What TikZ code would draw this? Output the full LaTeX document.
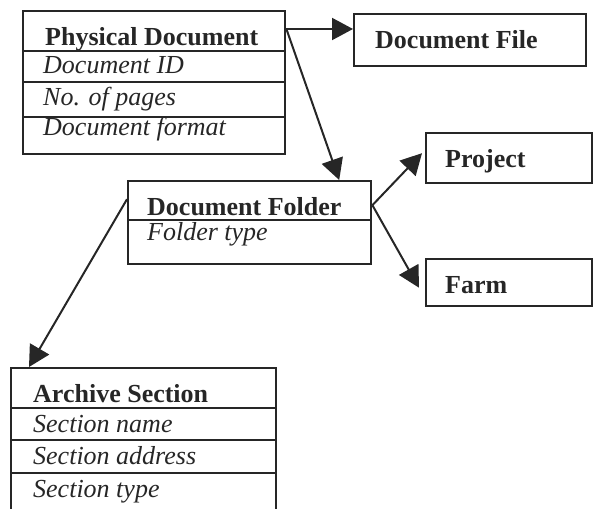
\documentclass[tikz,border=0pt]{standalone}
\usepackage{fontspec}
\setmainfont{Liberation Serif}
\usetikzlibrary{arrows.meta}
\begin{document}
\begin{tikzpicture}[x=1pt,y=-1pt,
 box/.style={draw=black!85, line width=2.4pt, rectangle, inner sep=0pt, anchor=north west},
 ttl/.style={anchor=base west, inner sep=0pt, text=black!85, font=\fontsize{26}{28}\selectfont\bfseries},
 attr/.style={anchor=base west, inner sep=0pt, text=black!85, font=\fontsize{26}{28}\selectfont\itshape},
 sep/.style={draw=black!85, line width=2.2pt},
 conn/.style={draw=black!85, line width=2pt, -{Triangle[length=21pt,width=22pt]}}]
\useasboundingbox (0,0) rectangle (593,508);
% boxes
\node[box, minimum width=262pt, minimum height=143pt] (pd) at (22,10) {};
\node[box, minimum width=232pt, minimum height=52pt] (df) at (353,13) {};
\node[box, minimum width=166pt, minimum height=50pt] (proj) at (425,132) {};
\node[box, minimum width=166pt, minimum height=47pt] (farm) at (425,258) {};
\node[box, minimum width=243pt, minimum height=83pt] (fold) at (127,180) {};
\node[box, minimum width=265pt, minimum height=160pt] (arch) at (10,367) {};
% separators
\foreach \d in {41,72,107}
  \draw[sep] ([yshift=-\d pt]pd.north west) -- ([yshift=-\d pt]pd.north east);
\draw[sep] ([yshift=-40pt]fold.north west) -- ([yshift=-40pt]fold.north east);
\foreach \d in {41,73,106}
  \draw[sep] ([yshift=-\d pt]arch.north west) -- ([yshift=-\d pt]arch.north east);
% texts
\node[ttl] (pdt) at (45,46) {Physical Document};
\node[attr] (pd1) at (43,74) {Document ID};
\node[attr] (pd2) at (43,105) {No. of pages};
\node[attr] (pd3) at (43,135) {Document format};
\node[ttl] (dft) at (375,49) {Document File};
\node[ttl] (projt) at (445,167) {Project};
\node[ttl] (farmt) at (445,293) {Farm};
\node[ttl] (foldt) at (147,215) {Document Folder};
\node[attr] (fold1) at (147,240) {Folder type};
\node[ttl] (archt) at (33,402) {Archive Section};
\node[attr] (arch1) at (33,432) {Section name};
\node[attr] (arch2) at (33,464) {Section address};
\node[attr] (arch3) at (33,497) {Section type};
% connectors
\coordinate (pdout) at ([yshift=-19pt]pd.north east);
\coordinate (foldout) at ([yshift=17.5pt]fold.east);
\coordinate (foldleft) at ([yshift=23.5pt]fold.west);
\draw[conn] (pdout) -- (df.west |- pdout);
\draw[conn] (pdout) -- ([xshift=89.5pt]fold.north);
\draw[conn] (foldout) -- ([xshift=-3pt,yshift=5pt]proj.west);
\draw[conn] (foldout) -- ([xshift=-6pt,yshift=-5pt]farm.west);
\draw[conn] (foldleft) -- ([xshift=19pt]arch.north west);
\end{tikzpicture}
\end{document}
